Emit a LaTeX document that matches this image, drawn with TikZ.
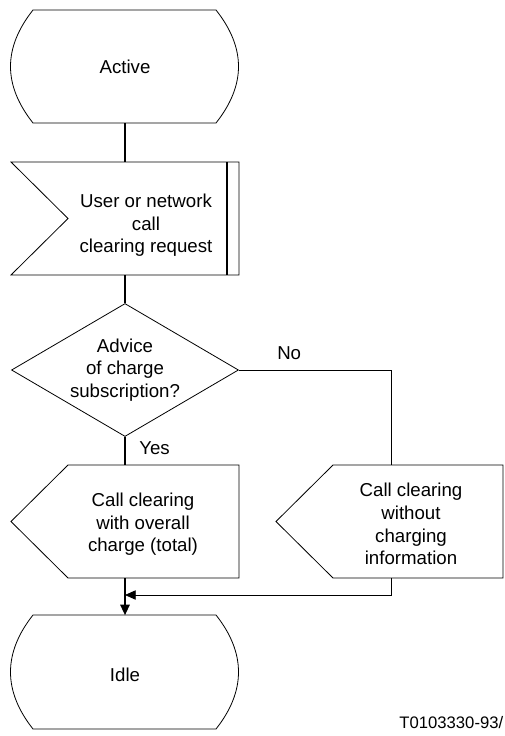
\documentclass[tikz,border=0pt]{standalone}
\usepackage{fontspec}
\setmainfont{Liberation Sans}
\usetikzlibrary{shapes.geometric,arrows.meta}

\newcommand{\droptop}[1]{\rule{0pt}{#1}}

\tikzset{
  sdltext/.style={font=\fontsize{14}{17}\selectfont, align=center, inner sep=0pt},
  sdlbox/.style={sdltext, minimum height=84.75pt},
  outline/.style={line width=0.6pt},
  flow/.style={line width=1.5pt},
  branch/.style={line width=0.6pt},
  tip/.style={-{Triangle[length=8pt,width=7pt]}}
}

\begin{document}
\begin{tikzpicture}[x=0.75pt,y=0.75pt,yscale=-1,xscale=1]
\useasboundingbox (0,0) rectangle (504,736);

%Shape: State Active
\draw[outline] (33,10) -- (216,10) .. controls (246,48) and (246,85) .. (216,123) -- (33,123) .. controls (3,85) and (3,48) .. (33,10) -- cycle ;
%Shape: Input signal
\draw[outline] (11,162) -- (239,162) -- (239,275) -- (11,275) -- (68,218.5) -- cycle ;
\draw[flow] (227,162) -- (227,275) ;
%Shape: Output with charge
\draw[outline] (68,465) -- (239,465) -- (239,578) -- (68,578) -- (11,521.5) -- cycle ;
%Shape: Output without charge
\draw[outline] (333,465) -- (503,465) -- (503,578) -- (333,578) -- (276,521.5) -- cycle ;
%Shape: State Idle
\draw[outline] (33,615) -- (216,615) .. controls (246,653) and (246,691) .. (216,729) -- (33,729) .. controls (3,691) and (3,653) .. (33,615) -- cycle ;

% Text Node
\node[sdlbox] (active) at (125,66.5) {Active};
% Text Node
\node[sdlbox] (request) at (146,218.5) {\droptop{20.5pt}User or network\\call\\clearing request};
% Decision
\node[sdltext, shape=diamond, draw, outline, aspect=1.7, minimum width=170.25pt, minimum height=99.75pt] (advice) at (125,370) {Advice\\of charge\\subscription?};
% Text Node
\node[sdlbox] (withcharge) at (143,521.5) {\droptop{14.5pt}Call clearing\\with overall\\charge (total)};
% Text Node
\node[sdlbox] (without) at (411,521.5) {\droptop{14pt}Call clearing\\without\\charging\\information};
% Text Node
\node[sdlbox] (idle) at (125,672) {\droptop{14pt}Idle};

% Text Node
\node[sdltext, anchor=west] (no) at (277,353) {No};
% Text Node
\node[sdltext, anchor=west] (yes) at (139,448) {Yes};
% Text Node
\node[font=\fontsize{12.5}{15}\selectfont, inner sep=0pt, anchor=east] (ref) at (503.5,723) {T0103330-93/};

\coordinate (nobend) at (391,370);
\coordinate (merge) at (125,595);

%Connectors
\draw[flow] (active.south) -- (active.south |- request.north) ;
\draw[flow] (active.south |- request.south) -- (advice.north) ;
\draw[flow] (advice.south) -- (advice.south |- withcharge.north) ;
\draw[branch] (advice.east) -- (nobend) -- (nobend |- without.north) ;
\draw[branch, tip] (nobend |- without.south) |- (merge) ;
\draw[flow, tip] (active.south |- withcharge.south) -- (idle.north) ;

\end{tikzpicture}
\end{document}
